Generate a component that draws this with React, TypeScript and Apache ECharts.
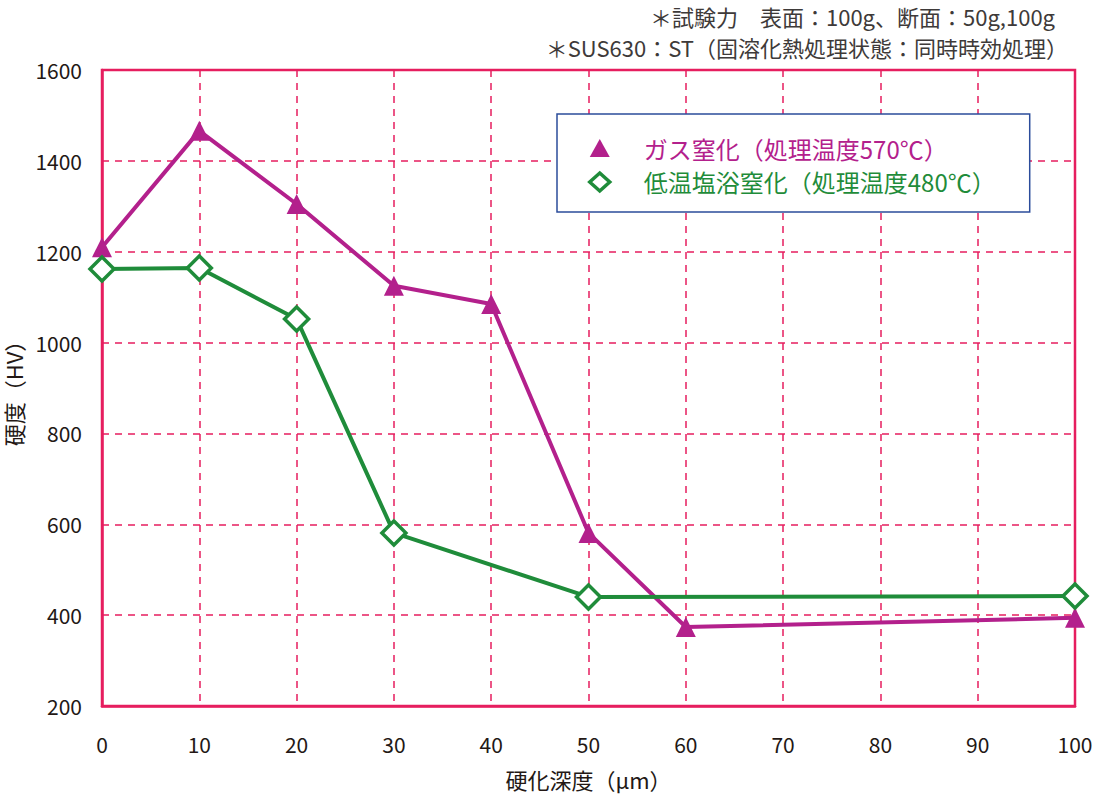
import React, { useEffect, useRef } from "react";
import * as echarts from "echarts";

const depthTicks = [0, 10, 20, 30, 40, 50, 60, 70, 80, 90, 100];
const gasDepth = [0, 10, 20, 30, 40, 50, 60, 100];
const gasHardness = [1210, 1466, 1305, 1125, 1085, 581, 374, 394];
const saltDepth = [0, 10, 20, 30, 50, 100];
const saltHardness = [1162, 1164, 1052, 581, 440, 442];
const gasName = "ガス窒化（処理温度570℃）";
const saltName = "低温塩浴窒化（処理温度480℃）";
const note1 = "＊試験力　表面：100g、断面：50g,100g";
const note2 = "＊SUS630：ST（固溶化熱処理状態：同時時効処理）";

const FONT = "'Noto Sans CJK JP', 'Noto Sans', sans-serif";
const AXIS = "#e61e5f";
const MAG = "#b3208c";
const GRN = "#1f8c3a";
const TXT = "#231815";

export default function App() {
  const ref = useRef<HTMLDivElement>(null);
  useEffect(() => {
    document.body.style.margin = "0";
    const chart = echarts.init(ref.current!, null, { renderer: "svg" });
    chart.setOption({
      animation: false,
      backgroundColor: "#fff",
      textStyle: { fontFamily: FONT },
      grid: {
        left: 102,
        right: 19,
        top: 70,
        bottom: 88,
        outerBoundsMode: "none",
        containLabel: false,
        show: true,
        borderColor: AXIS,
        borderWidth: 2.5,
        backgroundColor: "transparent",
      },
      graphic: [
        {
          type: "text",
          right: 39,
          top: 5,
          style: { text: note1, font: `22px ${FONT}`, fill: "#3e3a39" },
        },
        {
          type: "text",
          right: 26,
          top: 36,
          style: { text: note2, font: `22px ${FONT}`, fill: "#3e3a39" },
        },
      ],
      legend: {
        left: 557,
        top: 114,
        orient: "vertical",
        padding: [22, 34, 18, 31],
        itemGap: 10,
        itemWidth: 20,
        itemHeight: 18,
        borderColor: "#2b4c9b",
        borderWidth: 1.5,
        backgroundColor: "#fff",
        data: [
          {
            name: gasName,
            icon: "triangle",
            itemStyle: { color: MAG, borderWidth: 0 },
            textStyle: { color: MAG },
          },
          {
            name: saltName,
            icon: "diamond",
            itemStyle: { color: "#fff", borderColor: GRN, borderWidth: 3.5 },
            textStyle: { color: GRN },
          },
        ],
        textStyle: { fontSize: 24, fontFamily: FONT, padding: [0, 0, 0, 29] },
      },
      xAxis: {
        type: "value",
        min: 0,
        max: 100,
        interval: 10,
        name: "硬化深度（μm）",
        nameLocation: "middle",
        nameGap: 62,
        nameTextStyle: { fontSize: 22, color: TXT, fontFamily: FONT },
        axisLine: { show: true, lineStyle: { color: AXIS, width: 2.5 } },
        axisTick: { show: false },
        axisLabel: { fontSize: 21, color: TXT, margin: 27, fontFamily: FONT },
        splitLine: { show: true, lineStyle: { color: AXIS, type: [7, 6], width: 1.5 } },
      },
      yAxis: {
        type: "value",
        min: 200,
        max: 1600,
        interval: 200,
        name: "硬度（HV）",
        nameLocation: "middle",
        nameGap: 72,
        nameRotate: 90,
        nameTextStyle: { fontSize: 22, color: TXT, fontFamily: FONT },
        axisLine: { show: true, lineStyle: { color: AXIS, width: 2.5 } },
        axisTick: { show: false },
        axisLabel: {
          fontSize: 21,
          color: TXT,
          margin: 20,
          fontFamily: FONT,
          formatter: (v: number) => String(v),
        },
        splitLine: { show: true, lineStyle: { color: AXIS, type: [7, 6], width: 1.5 } },
      },
      series: [
        {
          name: gasName,
          type: "line",
          data: gasDepth.map((d, i) => [d, gasHardness[i]]),
          symbol: "triangle",
          symbolSize: 20,
          lineStyle: { color: MAG, width: 4 },
          itemStyle: { color: MAG, borderWidth: 0 },
          z: 3,
        },
        {
          name: saltName,
          type: "line",
          data: saltDepth.map((d, i) => [d, saltHardness[i]]),
          symbol: "diamond",
          symbolSize: 24,
          showAllSymbol: true,
          lineStyle: { color: GRN, width: 4 },
          itemStyle: { color: "#fff", borderColor: GRN, borderWidth: 3.5 },
          z: 4,
        },
      ],
    });
    return () => chart.dispose();
  }, []);
  return <div ref={ref} style={{ width: 1094, height: 794 }} />;
}
